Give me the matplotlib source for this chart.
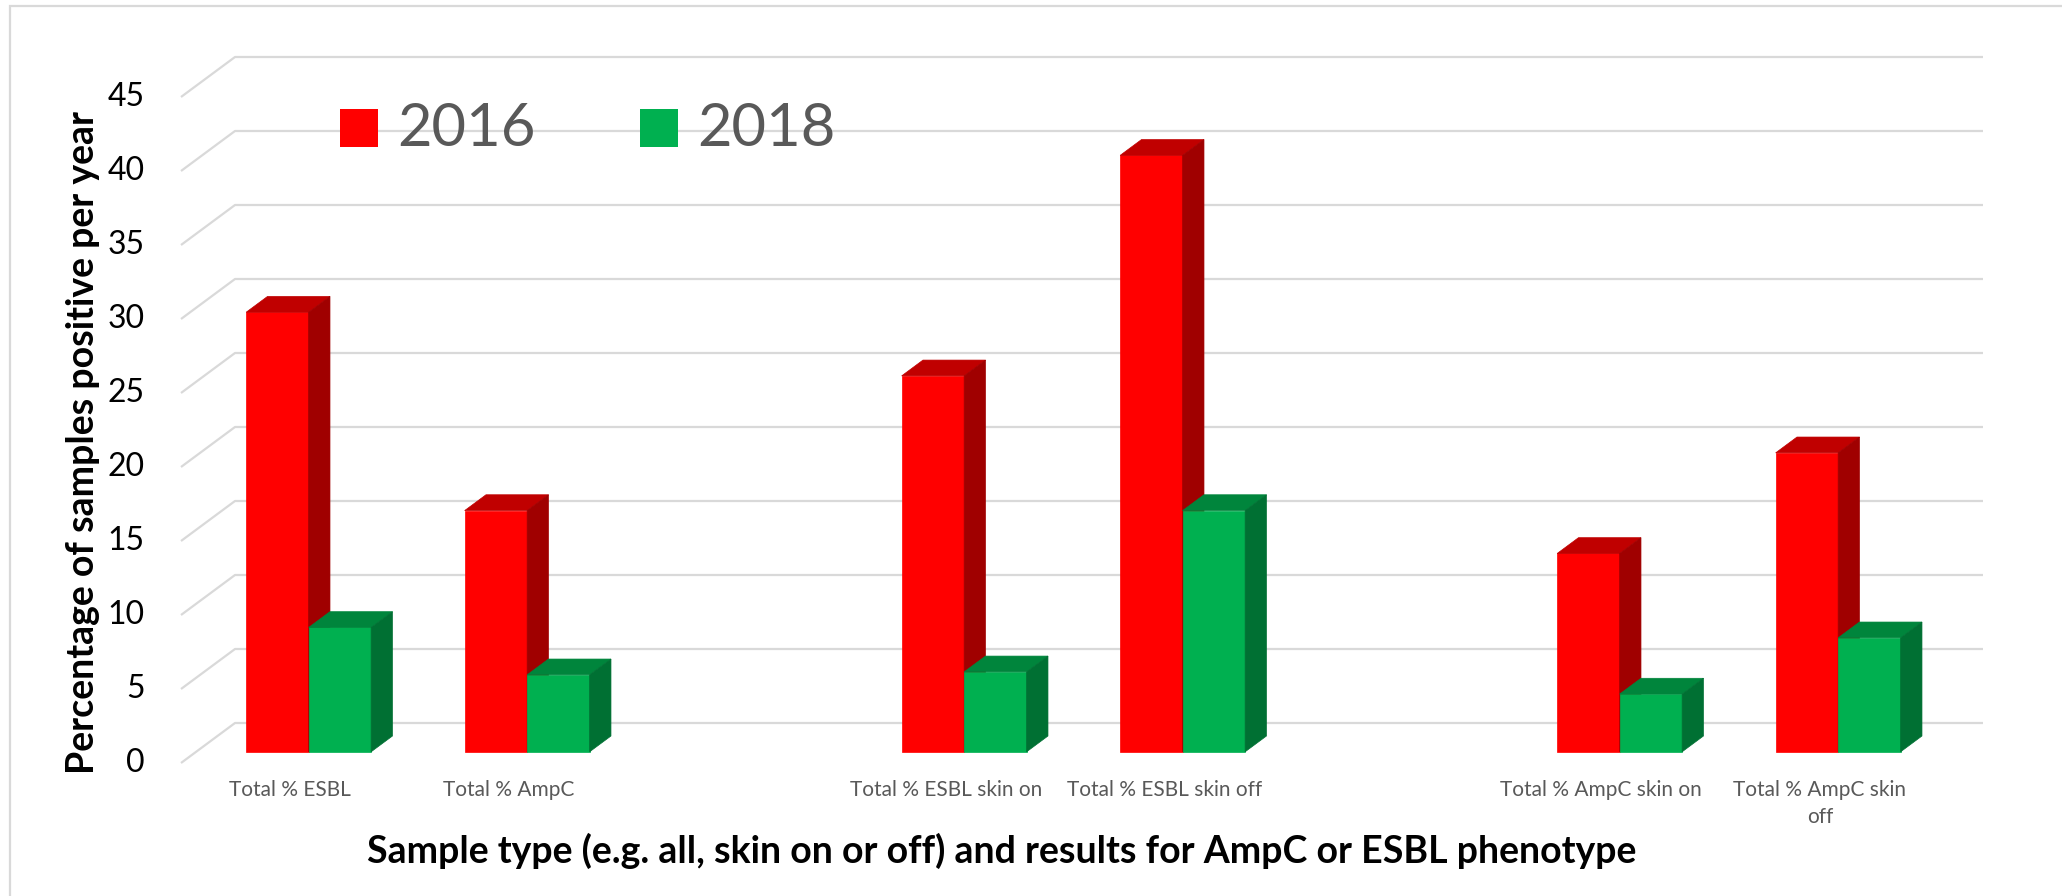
import numpy as np
import matplotlib
matplotlib.use("Agg")
import matplotlib.pyplot as plt
from matplotlib.patches import Rectangle

plt.rcParams['font.family'] = ['Lato', 'DejaVu Sans']

# data (blank slots are empty categories)
categories = ["Total % ESBL", "Total % AmpC", "", "Total % ESBL skin on",
              "Total % ESBL skin off", "", "Total % AmpC skin on",
              "Total % AmpC skin\noff"]
vals_2016 = [29.7, 16.3, np.nan, 25.4, 40.3, np.nan, 13.4, 20.2]
vals_2018 = [8.4, 5.2, np.nan, 5.4, 16.3, np.nan, 3.9, 7.7]
years = ["2016", "2018"]
yticks = list(range(0, 50, 5))

# colours: front, top, side
red = ("#FF0000", "#C00000", "#A00000")
green = ("#00B050", "#00853C", "#007033")

W, H = 2062, 896
fig = plt.figure(figsize=(W / 100, H / 100), dpi=100)
ax = fig.add_axes([0, 0, 1, 1])

# pixel layout of the pseudo-3d box
x0_px, y0_px = 181, 763     # front-left corner of the floor
slot_px = 218.5             # width of one category
unit_px = 14.8              # pixels per percent
DX = 54 / slot_px           # depth offset in data units
DY = 40 / unit_px
ax.set_xlim(-x0_px / slot_px, (W - x0_px) / slot_px)
ax.set_ylim((y0_px - H) / unit_px, y0_px / unit_px)
ax.axis('off')

ncat = len(categories)


def proj(x, v, z):
    return x + z * DX, v + z * DY


def px(x, y):
    # figure pixel (from top-left) -> axes fraction
    return x / W, 1 - y / H


# gridlines on side wall and back wall
for v in yticks:
    pts = [proj(0, v, 0), proj(0, v, 1), proj(ncat, v, 1)]
    ax.plot([p[0] for p in pts], [p[1] for p in pts], color="#D9D9D9",
            lw=1.6, solid_capstyle='butt', zorder=1)
    ax.text(*px(145, y0_px - v * unit_px), str(v), transform=ax.transAxes,
            ha='right', va='center', fontsize=23, color="#000000")

z0, z1 = 0.28, 0.675
off, bw = 0.229, 0.286


def bar3d(a, b, h, cols, zo):
    front = [proj(a, 0, z0), proj(b, 0, z0), proj(b, h, z0), proj(a, h, z0)]
    top = [proj(a, h, z0), proj(b, h, z0), proj(b, h, z1), proj(a, h, z1)]
    side = [proj(b, 0, z0), proj(b, 0, z1), proj(b, h, z1), proj(b, h, z0)]
    for face, c in zip((front, top, side), cols):
        ax.fill([p[0] for p in face], [p[1] for p in face], color=c,
                lw=0.5, ec=c, zorder=zo)


for i in range(ncat):
    if not np.isnan(vals_2016[i]):
        a = i + off
        bar3d(a, a + bw, vals_2016[i], red, 3)
        bar3d(a + bw, a + 2 * bw, vals_2018[i], green, 4)
    if categories[i]:
        ax.text(i + 0.5, (y0_px - 780) / unit_px, categories[i], ha='center',
                va='top', fontsize=15, color="#595959", linespacing=1.45)

# legend
for k, (name, c) in enumerate(zip(years, (red[0], green[0]))):
    lx = 340 + k * 300
    ax.add_patch(Rectangle(px(lx, 147), 38 / W, 38 / H, transform=ax.transAxes,
                           color=c, lw=0, zorder=5))
    ax.text(*px(lx + 57, 129), name, transform=ax.transAxes, ha='left',
            va='center', fontsize=43, color="#595959")

ax.text(*px(83, 442), "Percentage of samples positive per year",
        transform=ax.transAxes, rotation=90, ha='center', va='center',
        fontsize=27, fontweight='bold', color="#000000")
ax.text(*px(1002, 851),
        "Sample type (e.g. all, skin on or off) and results for AmpC or ESBL phenotype",
        transform=ax.transAxes, ha='center', va='center', fontsize=27,
        fontweight='bold', color="#000000")

# chart border
ax.add_patch(Rectangle(px(10, H + 10), (W + 10) / W, (H + 4) / H,
                       transform=ax.transAxes, fill=False, ec="#D9D9D9",
                       lw=1.6, zorder=0))

fig.savefig("out.png", dpi=100)
